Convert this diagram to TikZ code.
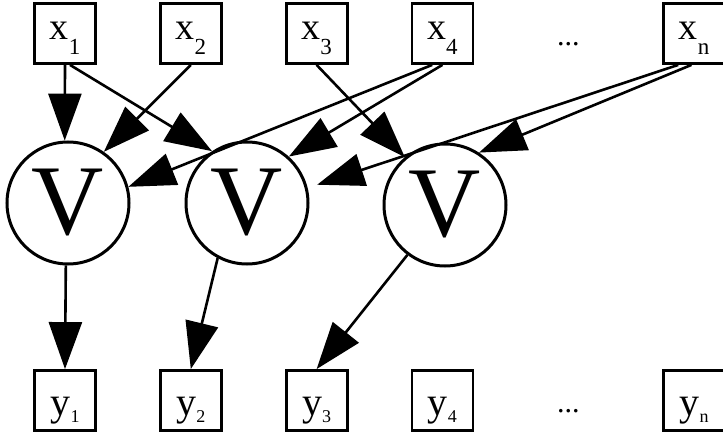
\documentclass[tikz,border=0pt]{standalone}
\usepackage{fontspec}
\setmainfont{Liberation Serif}
\usetikzlibrary{arrows.meta, positioning, calc}
\newcommand{\xlab}[1]{\rule{0pt}{28pt}x\raisebox{-15pt}{\fontsize{23}{23}\selectfont #1}}
\newcommand{\ylab}[1]{\rule{0pt}{38pt}y\raisebox{-7pt}{\fontsize{18}{18}\selectfont #1}}

\begin{document}
\begin{tikzpicture}[x=1pt, y=-1pt, node distance=62pt,
  box/.style={draw, line width=2.8pt, minimum width=61pt, minimum height=60pt, inner sep=0pt, font=\fontsize{38}{38}\selectfont},
  outbox/.style={box, font=\fontsize{40}{40}\selectfont},
  gate/.style={draw, circle, line width=3pt, minimum size=122pt, inner sep=0pt, font=\fontsize{100}{100}\selectfont},
  dots/.style={inner sep=0pt, font=\fontsize{30}{30}\selectfont},
  edge/.style={->, line width=2.6pt}, >={Triangle[length=47pt, width=33pt]}]
\useasboundingbox (0,0) rectangle (723,433);
% inputs
\node[box] (x1) at (65,33.5) {\xlab{1}};
\node[box, right=of x1] (x2) {\xlab{2}};
\node[box, right=of x2] (x3) {\xlab{3}};
\node[box, right=of x3] (x4) {\xlab{4}};
\node[box, right=188pt of x4] (xn) {\xlab{n}};
\node[dots] (xdots) at ($(x4.east)!0.5!(xn.west)+(0,11)$) {...};
% gates
\node[gate] (V1) at (68,203) {V};
\node[gate] (V2) at (247,203) {V};
\node[gate] (V3) at (445,205) {V};
% outputs
\node[outbox] (y1) at (65,400.5) {\ylab{1}};
\node[outbox, right=of y1] (y2) {\ylab{2}};
\node[outbox, right=of y2] (y3) {\ylab{3}};
\node[outbox, right=of y3] (y4) {\ylab{4}};
\node[outbox, right=188pt of y4] (yn) {\ylab{n}};
\node[dots] (ydots) at ($(y4.east)!0.5!(yn.west)+(0,11)$) {...};
% connections
\draw[edge] (x1.south) -- (V1.93);
\draw[edge] (x1.-81) -- (V2.124);
\draw[edge] (x2.south) -- (V1.55);
\draw[edge] (x3.south) -- (V3.130);
\draw[edge] (x4.-108) -- (V1.15);
\draw[edge] (x4.south) -- (V2.48);
\draw[edge, shorten >=10pt] (xn.-117) -- (V2.14);
\draw[edge] (xn.-95) -- (V3.57);
\draw[edge] (V1.-92) -- (y1.north);
\draw[edge] (V2.-118) -- (y2.north);
\draw[edge] (V3.-127) -- (y3.north);
\end{tikzpicture}
\end{document}
